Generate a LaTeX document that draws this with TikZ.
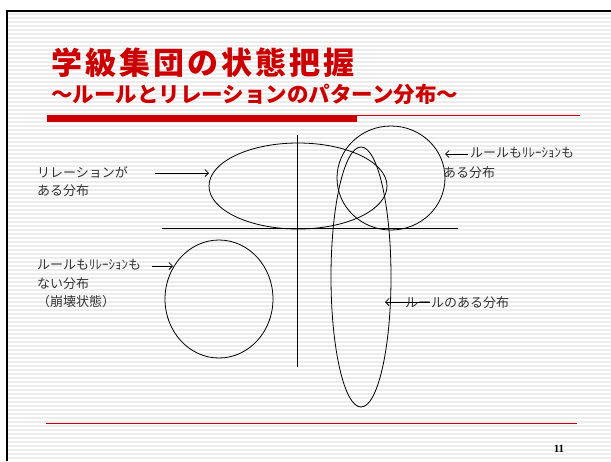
\documentclass[tikz,border=0pt]{standalone}
\usepackage{fontspec}
\setmainfont{Liberation Serif}
\newfontfamily\cjk{Noto Sans CJK JP}
\usetikzlibrary{arrows.meta,shapes.geometric}
\definecolor{tred}{HTML}{CC0000}
\definecolor{stripec}{HTML}{ECECEC}
\definecolor{txtgray}{HTML}{333333}
\begin{document}
\begin{tikzpicture}[x=1pt,y=-1pt,
  shapeline/.style={draw=black,line width=0.8pt,inner sep=0pt},
  ell/.style={shapeline,ellipse},
  lbl/.style={text=txtgray,inner sep=0pt,align=left,anchor=north west,font=\cjk\fontsize{13}{18.5}\selectfont},
  arr/.style={draw=black,line width=0.8pt,-{Straight Barb[length=3.5pt,width=7pt]}},
  axis/.style={draw=black,line width=0.8pt}]
\useasboundingbox (0,0) rectangle (611,461);
\fill[white] (0,0) rectangle (611,461);
\foreach \y in {14,18,...,461} \draw[stripec,line width=1.6pt] (8,\y) -- (611,\y);
\draw[line width=2.5pt] (7,461) -- (7,11) -- (611,11);
% title
\node[anchor=west,inner sep=0pt,text=tred,font=\cjk\bfseries\fontsize{31}{31}\selectfont\addfontfeatures{LetterSpace=10}] (title) at (51,63) {学級集団の状態把握};
\node[anchor=west,inner sep=0pt,text=tred,font=\cjk\bfseries\fontsize{21.5}{21.5}\selectfont] (subtitle) at (51,94) {〜ルールとリレーションのパターン分布〜};
\fill[tred] (47,115) rectangle (357,122);
\draw[tred,line width=1pt] (357,115.5) -- (580,115.5);
\draw[tred,line width=1pt] (46,423) -- (577,423);
\node[inner sep=0pt,font=\bfseries\fontsize{11}{11}\selectfont] (pnum) at (559,449) {11};
% axes
\coordinate (vtop) at (297,135);
\coordinate (vbot) at (297,367);
\coordinate (hl) at (162,228);
\coordinate (hr) at (458,228);
\draw[axis] (vtop) -- (vbot);
\draw[axis] (hl) -- (hr);
% shapes
\node[ell,minimum width=178pt,minimum height=86pt] (rel) at (298,186) {};
\node[ell,minimum width=108pt,minimum height=104pt] (both) at (391,178) {};
\node[ell,minimum width=60pt,minimum height=260pt] (rule) at (361,277) {};
\node[ell,minimum width=108pt,minimum height=118pt] (none) at (219,299) {};
% labels
\node[lbl] (lrel) at (37,166) {リレーションが\\ある分布};
\node[lbl] (lnone) at (37,259) {ルールもﾘﾚｰｼｮﾝも\\ない分布\\（崩壊状態）};
\node[lbl] (lbothA) at (470,147) {ルールもﾘﾚｰｼｮﾝも};
\node[lbl] (lbothB) at (443,166) {ある分布};
\node[lbl] (lrule) at (405,296) {ルールのある分布};
% arrows
\coordinate (a1s) at (155,173); \coordinate (a1e) at (209,173);
\coordinate (a2s) at (152,266); \coordinate (a2e) at (173,266);
\coordinate (a3s) at (468,154); \coordinate (a3e) at (445,154);
\coordinate (a4s) at (430,302); \coordinate (a4e) at (385,302);
\draw[arr] (a1s) -- (a1e);
\draw[arr] (a2s) -- (a2e);
\draw[arr] (a3s) -- (a3e);
\draw[arr] (a4s) -- (a4e);
\end{tikzpicture}
\end{document}
